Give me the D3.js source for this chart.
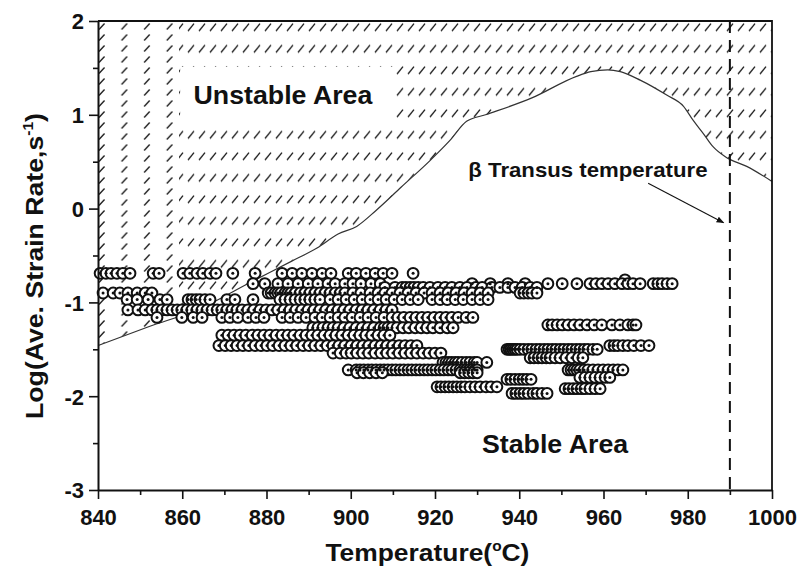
<!DOCTYPE html>
<html>
<head>
<meta charset="utf-8">
<script src="https://cdn.jsdelivr.net/npm/d3@7"></script>
<style>
  body { margin: 0; background: #fff; }
  text { font-family: "Liberation Sans", Arial, sans-serif; font-weight: bold; fill: #111; }
</style>
</head>
<body>
<svg id="chart" width="805" height="569"></svg>
<script>
// Axis ticks
const xTicks = [840, 860, 880, 900, 920, 940, 960, 980, 1000];
const xMinorTicks = [850, 870, 890, 910, 930, 950, 970, 990];
const yTicks = [-3, -2, -1, 0, 1, 2];
const yMinorTicks = [-2.5, -1.5, -0.5, 0.5, 1.5];

// Instability boundary (temperature, log strain rate)
const boundaryTemp = [840, 852, 864, 876, 886, 892, 897, 901.4, 906, 912, 919, 923.6, 927.5, 932, 943, 953.6, 957, 961, 964, 968.7, 975, 979, 981.3, 983.7, 986, 989, 994, 1000];
const boundaryRate = [-1.46, -1.26, -1.07, -0.79, -0.56, -0.42, -0.27, -0.19, -0.02, 0.23, 0.52, 0.73, 0.93, 1.0, 1.18, 1.41, 1.46, 1.48, 1.46, 1.37, 1.21, 1.09, 0.94, 0.80, 0.66, 0.55, 0.45, 0.29];

// Beta transus temperature
const transusTemp = 990;

// Processing points, grouped by log strain rate
const rowRates = [-0.69, -0.76, -0.80, -0.84, -0.90, -0.97, -1.08, -1.16, -1.24, -1.27, -1.35, -1.46, -1.50, -1.54, -1.59, -1.64, -1.72, -1.75, -1.80, -1.82, -1.90, -1.92, -1.97];
const rowTemps = [
  [840.5, 841.9, 843.1, 844.5, 845.9, 847.6, 853.1, 854.5, 860.2, 861.8, 863.5, 864.9, 866.6, 868.0, 872.0, 877.3, 883.7, 886.1, 888.4, 890.8, 893.2, 895.3, 899.4, 901.3, 903.6, 905.8, 907.7, 909.8, 914.8],
  [965.1],
  [876.8, 879.6, 882.7, 885.1, 887.5, 889.9, 892.2, 894.6, 896.3, 898.6, 900.5, 902.4, 904.8, 907.0, 928.8, 933.1, 937.3, 941.4, 946.8, 950.2, 953.7, 956.8, 958.2, 959.6, 961.1, 962.7, 964.4, 965.8, 967.0, 968.7, 971.8, 972.9, 973.9, 975.1, 976.3],
  [908.1, 910.5, 912.2, 913.1, 914.1, 915.0, 916.0, 917.2, 918.8, 920.7, 922.4, 924.0, 925.9, 927.6, 929.7, 931.2, 933.5, 935.4, 937.3, 939.0, 940.7, 942.6, 944.2],
  [841.2, 843.6, 845.2, 847.1, 849.3, 851.2, 852.8, 880.4, 881.1, 882.0, 882.7, 883.4, 884.4, 885.1, 885.8, 886.8, 888.0, 889.1, 890.3, 891.5, 892.7, 893.9, 895.1, 896.3, 897.5, 898.6, 900.5, 902.4, 904.6, 906.5, 908.1, 909.8, 911.7, 913.6, 915.5, 917.4, 919.3, 921.2, 923.1, 925.0, 926.9, 928.8, 930.7, 932.6, 940.2, 941.1, 942.1, 943.0, 944.2],
  [846.9, 849.3, 851.9, 854.7, 856.4, 861.4, 862.3, 863.3, 864.2, 865.4, 866.6, 870.6, 872.5, 876.8, 883.2, 884.4, 885.6, 886.8, 888.0, 889.1, 890.3, 891.5, 892.7, 895.1, 897.0, 898.9, 900.8, 902.7, 904.6, 906.5, 908.4, 910.3, 912.2, 914.1, 916.0, 919.3, 921.2, 922.9, 924.8, 926.7, 928.8, 930.7, 932.6],
  [847.1, 849.5, 851.2, 852.8, 854.0, 855.2, 856.4, 857.6, 858.8, 859.9, 861.1, 862.3, 863.5, 864.7, 865.9, 867.1, 868.3, 869.4, 870.6, 871.8, 873.0, 874.2, 875.6, 877.0, 878.5, 879.9, 881.3, 882.7, 884.2, 885.6, 887.0, 888.4, 889.9, 891.3, 892.7, 894.1, 895.6, 897.0, 898.4, 899.8, 901.3, 902.7, 904.1, 905.5, 907.0, 908.4, 909.8],
  [854.0, 859.9, 862.6, 864.7, 869.4, 871.3, 873.2, 875.6, 877.5, 879.4, 883.7, 885.6, 887.5, 889.4, 891.5, 893.2, 895.1, 897.0, 898.6, 900.3, 902.2, 904.1, 906.0, 907.9, 909.8, 911.2, 912.6, 914.1, 915.5, 916.9, 918.3, 919.8, 921.2, 922.6, 924.0, 925.5, 927.4, 929.0],
  [946.8, 947.8, 949.0, 950.2, 951.6, 953.0, 954.4, 956.1, 957.8, 959.6, 962.0, 963.9, 965.8, 967.0, 967.7],
  [891.0, 892.2, 893.4, 894.6, 895.8, 897.0, 898.4, 899.8, 901.3, 902.7, 904.1, 905.5, 907.0, 907.9, 908.8, 909.8, 911.0, 912.4, 913.8, 915.3, 916.7, 918.1, 919.5, 921.2, 922.9, 924.3],
  [869.4, 870.9, 872.3, 873.7, 875.1, 876.6, 878.0, 879.4, 880.8, 882.3, 883.7, 885.1, 886.5, 888.0, 889.4, 890.8, 892.2, 893.7, 895.1, 896.5, 897.9, 899.4, 900.8, 902.2, 903.6, 905.0, 906.5, 907.9, 909.3],
  [868.7, 870.2, 871.6, 873.0, 874.4, 875.8, 877.3, 878.7, 880.1, 881.5, 883.0, 884.4, 885.8, 887.2, 888.7, 890.1, 891.5, 892.9, 894.4, 895.8, 897.2, 898.6, 900.1, 901.5, 902.9, 904.3, 905.8, 907.2, 908.6, 910.0, 911.5, 912.9, 914.3, 915.7, 961.5, 962.5, 963.4, 964.6, 965.8, 967.2, 968.9, 970.8],
  [937.1, 937.6, 938.0, 938.5, 939.0, 939.5, 940.2, 941.1, 942.1, 943.0, 944.0, 944.9, 945.9, 946.8, 947.8, 948.7, 949.7, 950.6, 951.6, 952.5, 953.5, 954.4, 955.4, 956.3, 957.5, 958.5],
  [895.8, 897.5, 898.9, 900.1, 901.5, 902.9, 904.3, 905.8, 907.2, 908.6, 910.0, 911.5, 912.9, 914.3, 915.7, 917.2, 918.6, 920.0, 921.4],
  [942.6, 943.5, 944.5, 945.4, 946.4, 947.3, 948.5, 949.7, 951.1, 952.5, 954.0, 955.1],
  [921.9, 922.6, 923.3, 924.0, 924.8, 925.5, 926.4, 927.4, 928.3, 929.3, 930.0, 932.3],
  [899.4, 901.3, 902.2, 903.1, 904.1, 905.0, 906.0, 907.0, 907.9, 908.8, 909.8, 910.7, 911.7, 912.6, 913.6, 914.5, 915.5, 916.4, 917.4, 918.3, 919.3, 920.2, 921.2, 922.1, 923.1, 924.0, 925.0, 925.9, 926.7, 927.4, 928.1, 928.8, 929.5, 930.0, 951.6, 952.3, 953.0, 953.7, 954.4, 955.4, 956.3, 957.5, 958.7, 959.9, 961.1, 962.3, 963.4, 964.6],
  [901.5, 903.0, 904.5, 906.0, 907.5, 926.0, 927.0, 928.0, 929.0, 930.0],
  [954.4, 955.6, 956.8, 958.0, 959.2, 960.4, 961.5],
  [937.1, 938.0, 939.0, 940.0, 940.9, 941.8, 942.8],
  [920.5, 921.4, 922.4, 923.3, 924.3, 925.2, 926.2, 927.1, 928.3, 929.5, 930.7, 932.1, 933.3, 934.7],
  [950.9, 951.8, 952.8, 953.7, 954.7, 955.6, 956.8, 958.0, 959.2],
  [938.3, 939.2, 940.2, 941.1, 942.1, 943.3, 944.2, 945.4, 946.6]
];

const points = [];
rowRates.forEach((r, i) => rowTemps[i].forEach(t => points.push({ t, r })));
const boundary = boundaryTemp.map((t, i) => ({ t, r: boundaryRate[i] }));

const W = 805, H = 569;
const margin = { left: 98, right: 33, top: 21, bottom: 79 };
const svg = d3.select("#chart");

const x = d3.scaleLinear().domain([840, 1000]).range([margin.left, W - margin.right]);
const y = d3.scaleLinear().domain([-3, 2]).range([H - margin.bottom, margin.top]);

// Hatch patterns: short slanted strokes on a lattice
const defs = svg.append("defs");
const pA = defs.append("pattern").attr("id", "hatchA").attr("patternUnits", "userSpaceOnUse")
  .attr("x", 98).attr("y", 21).attr("width", 11).attr("height", 21.5);
pA.append("line").attr("x1", 2).attr("y1", 10).attr("x2", 8).attr("y2", 2.5)
  .attr("stroke", "#1a1a1a").attr("stroke-width", 1.3);
const pB = defs.append("pattern").attr("id", "hatchB").attr("patternUnits", "userSpaceOnUse")
  .attr("x", 98).attr("y", 21).attr("width", 22.6).attr("height", 11);
pB.append("line").attr("x1", 1).attr("y1", 8.5).attr("x2", 6.5).attr("y2", 2.5)
  .attr("stroke", "#1a1a1a").attr("stroke-width", 1.3);

const splitT = 859.2;
defs.append("clipPath").attr("id", "clipLeft").append("rect")
  .attr("x", x(840)).attr("y", y(2)).attr("width", x(splitT) - x(840)).attr("height", y(-3) - y(2));
defs.append("clipPath").attr("id", "clipRight").append("rect")
  .attr("x", x(splitT)).attr("y", y(2)).attr("width", x(1000) - x(splitT)).attr("height", y(-3) - y(2));

// Unstable region above the boundary
const area = d3.area().x(d => x(d.t)).y0(y(2)).y1(d => y(d.r)).curve(d3.curveMonotoneX);
svg.append("path").datum(boundary).attr("d", area).attr("fill", "url(#hatchB)").attr("clip-path", "url(#clipLeft)");
svg.append("path").datum(boundary).attr("d", area).attr("fill", "url(#hatchA)").attr("clip-path", "url(#clipRight)");

// Clear box behind the region label
svg.append("rect").attr("x", x(859.5)).attr("y", y(1.51)).attr("width", x(910.7) - x(859.5)).attr("height", y(0.93) - y(1.51))
  .attr("fill", "#fff");

// Boundary line
const line = d3.line().x(d => x(d.t)).y(d => y(d.r)).curve(d3.curveMonotoneX);
svg.append("path").datum(boundary).attr("d", line).attr("fill", "none").attr("stroke", "#333").attr("stroke-width", 1.2);

// Beta transus line
svg.append("line").attr("x1", x(transusTemp)).attr("x2", x(transusTemp)).attr("y1", y(2)).attr("y2", y(-3))
  .attr("stroke", "#111").attr("stroke-width", 2).attr("stroke-dasharray", "12,7");

// Points
const gp = svg.append("g");
gp.selectAll("circle.ring").data(points).join("circle").attr("class", "ring")
  .attr("cx", d => x(d.t)).attr("cy", d => y(d.r)).attr("r", 5.4)
  .attr("fill", "#fff").attr("stroke", "#111").attr("stroke-width", 2);
gp.selectAll("circle.dot").data(points).join("circle").attr("class", "dot")
  .attr("cx", d => x(d.t)).attr("cy", d => y(d.r)).attr("r", 1.5).attr("fill", "#111");

// Axes
const axisStyle = g => {
  g.select(".domain").attr("stroke", "#111").attr("stroke-width", 2);
  g.selectAll(".tick line").attr("stroke", "#111").attr("stroke-width", 1.6);
};
const plain = d => String(d);
const gx = svg.append("g").attr("transform", `translate(0,${y(-3)})`)
  .call(d3.axisBottom(x).tickValues(xTicks).tickSize(9).tickSizeOuter(0).tickFormat(plain))
  .call(axisStyle);
gx.selectAll("text").attr("y", 35).attr("dy", null).style("font-size", "22px").attr("fill", "#111");
svg.append("g").attr("transform", `translate(0,${y(-3)})`)
  .call(d3.axisBottom(x).tickValues(xMinorTicks).tickSize(5).tickSizeOuter(0).tickFormat(""))
  .call(axisStyle).call(g => g.select(".domain").remove());

const gy = svg.append("g").attr("transform", `translate(${x(840)},0)`)
  .call(d3.axisLeft(y).tickValues(yTicks).tickSize(9).tickSizeOuter(0).tickFormat(plain))
  .call(axisStyle);
gy.selectAll("text").attr("x", -14).attr("dy", "0.36em").style("font-size", "22px").attr("fill", "#111");
svg.append("g").attr("transform", `translate(${x(840)},0)`)
  .call(d3.axisLeft(y).tickValues(yMinorTicks).tickSize(5).tickSizeOuter(0).tickFormat(""))
  .call(axisStyle).call(g => g.select(".domain").remove());

// Frame top and right
svg.append("path").attr("d", `M${x(840)},${y(2)}H${x(1000)}V${y(-3)}`)
  .attr("fill", "none").attr("stroke", "#111").attr("stroke-width", 1.8);

// Axis titles
const xt = svg.append("text").attr("transform", `translate(${x(918.2)},561) scale(1.1,1)`)
  .attr("text-anchor", "middle").style("font-size", "24px");
xt.append("tspan").text("Temperature(");
xt.append("tspan").attr("dy", -10).style("font-size", "14px").text("o");
xt.append("tspan").attr("dy", 10).text("C)");

const yt = svg.append("text").attr("transform", `translate(43,266) rotate(-90) scale(1.11,1)`)
  .attr("text-anchor", "middle").style("font-size", "24px");
yt.append("tspan").text("Log(Ave. Strain Rate,s");
yt.append("tspan").attr("dy", -10).style("font-size", "14px").text("-1");
yt.append("tspan").attr("dy", 10).text(")");

// Region labels
svg.append("text").attr("transform", `translate(${x(883.9)},${y(1.115)}) scale(1.07,1)`)
  .attr("text-anchor", "middle").style("font-size", "25px").text("Unstable Area");
svg.append("text").attr("transform", `translate(${x(948.5)},${y(-2.61)}) scale(1.07,1)`)
  .attr("text-anchor", "middle").style("font-size", "25px").text("Stable Area");
svg.append("text").attr("transform", `translate(${x(956.3)},${y(0.34)}) scale(1.11,1)`)
  .attr("text-anchor", "middle").style("font-size", "20px").text("β Transus temperature");

// Arrow to the transus line
defs.append("marker").attr("id", "arrowHead").attr("viewBox", "0 0 10 10").attr("refX", 9).attr("refY", 5)
  .attr("markerWidth", 7).attr("markerHeight", 7).attr("orient", "auto")
  .append("path").attr("d", "M0,1L10,5L0,9Z").attr("fill", "#111");
svg.append("line").attr("x1", x(970.6)).attr("y1", y(0.27)).attr("x2", x(988.5)).attr("y2", y(-0.15))
  .attr("stroke", "#111").attr("stroke-width", 1.1).attr("marker-end", "url(#arrowHead)");
</script>
</body>
</html>
